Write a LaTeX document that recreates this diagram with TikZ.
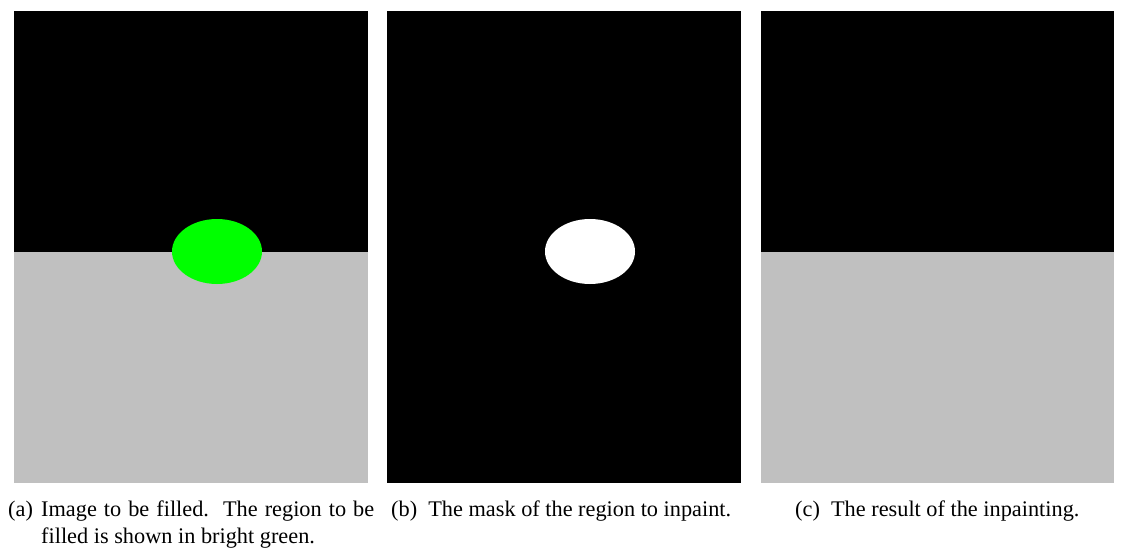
\documentclass[tikz,border=0pt]{standalone}
\usepackage{fontspec}
\setmainfont{Liberation Serif}
\usetikzlibrary{positioning}
\definecolor{floorgray}{RGB}{192,192,192}
\definecolor{brightgreen}{RGB}{0,255,0}

\begin{document}
\begin{tikzpicture}[
  x=1pt, y=-1pt,
  subcap/.style={font=\fontsize{22.3}{27}\selectfont, inner sep=0pt, anchor=base west},
  subcaptext/.style={subcap, text width=333pt, align=justify},
  hole/.style={x radius=45pt, y radius=32.5pt}
]
\useasboundingbox[fill=white] (0,0) rectangle (1126,556);

% (a) image with the region to fill
\fill[black]      (14,11)  rectangle (368,252);
\fill[floorgray]  (14,252) rectangle (368,483);
\fill[brightgreen] (217,251.5) ellipse [hole];

% (b) mask
\fill[black] (387,11) rectangle (741,483);
\fill[white] (590,251.5) ellipse [hole];

% (c) result
\fill[black]     (761,11)  rectangle (1114,252);
\fill[floorgray] (761,252) rectangle (1114,483);

% captions
\node[subcap] (labA) at (8,516) {(a)};
\node[subcaptext] (capA) at (41,516) {Image to be filled.\ \ The region to be filled is shown in bright green.};
\node[subcap] (capB) at (391,516) {(b)\ \ The mask of the region to inpaint.};
\node[subcap] (capC) at (795,516) {(c)\ \ The result of the inpainting.};
\end{tikzpicture}
\end{document}
